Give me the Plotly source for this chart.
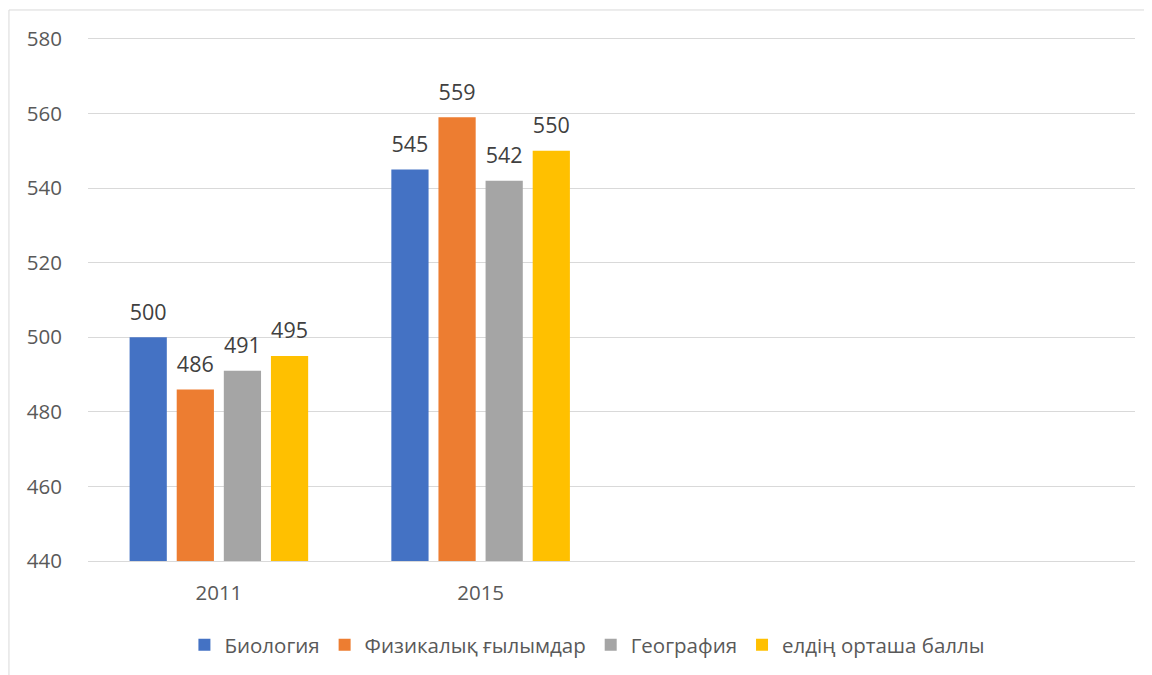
import plotly.graph_objects as go

years = ["2011", "2015"]
series_names = ["Биология", "Физикалық ғылымдар", "География", "елдің орташа баллы"]
biology = [500, 545]
physics = [486, 559]
geography = [491, 542]
average = [495, 550]
colors = ["#4472C4", "#ED7D31", "#A5A5A5", "#FFC000"]
y_ticks = [440, 460, 480, 500, 520, 540, 560, 580]

FONT = "Open Sans"
fig = go.Figure()
all_vals = [biology, physics, geography, average]
for i, (name, vals, col) in enumerate(zip(series_names, all_vals, colors)):
    fig.add_trace(go.Bar(
        x=years, y=vals, name=name, offsetgroup=str(i),
        marker=dict(color=col, line=dict(width=0)),
    ))
for i, (name, vals) in enumerate(zip(series_names, all_vals)):
    fig.add_trace(go.Scatter(
        x=years, y=vals, offsetgroup=str(i), mode="markers+text",
        marker=dict(size=18, color="rgba(0,0,0,0)"),
        text=[str(v) for v in vals], textposition="top center",
        textfont=dict(family=FONT, size=21.5, color="#404040"),
        showlegend=False, hoverinfo="skip", cliponaxis=False,
    ))

fig.update_layout(
    width=1152, height=675,
    margin=dict(l=80, r=25, t=31, b=122),
    paper_bgcolor="white", plot_bgcolor="white",
    barmode="group", scattermode="group", bargap=0.28, bargroupgap=0.21,
    font=dict(family=FONT, color="#595959"),
    showlegend=True,
    legend=dict(orientation="h", x=0.477, xanchor="center", y=-0.161, yanchor="middle",
                font=dict(family=FONT, size=20.5, color="#595959"),
                traceorder="normal"),
    xaxis=dict(type="category", range=[-0.5, 3.5], showgrid=False,
               showline=True, linecolor="#D9D9D9", linewidth=1, mirror=True,
               ticks="", ticklabelstandoff=13, tickfont=dict(size=20.5, color="#595959")),
    yaxis=dict(range=[440, 580], tickvals=y_ticks, showgrid=True, gridcolor="#D9D9D9",
               gridwidth=1, zeroline=False, showline=False, ticks="",
               ticklabelstandoff=25, tickfont=dict(size=20.5, color="#595959")),
    shapes=[dict(type="rect", xref="paper", yref="paper",
                 x0=-0.0755, x1=1.05, y0=-0.3, y1=1.0556,
                 line=dict(color="#D9D9D9", width=1), fillcolor="rgba(0,0,0,0)", layer="below")],
)

fig.write_html("out.html")
